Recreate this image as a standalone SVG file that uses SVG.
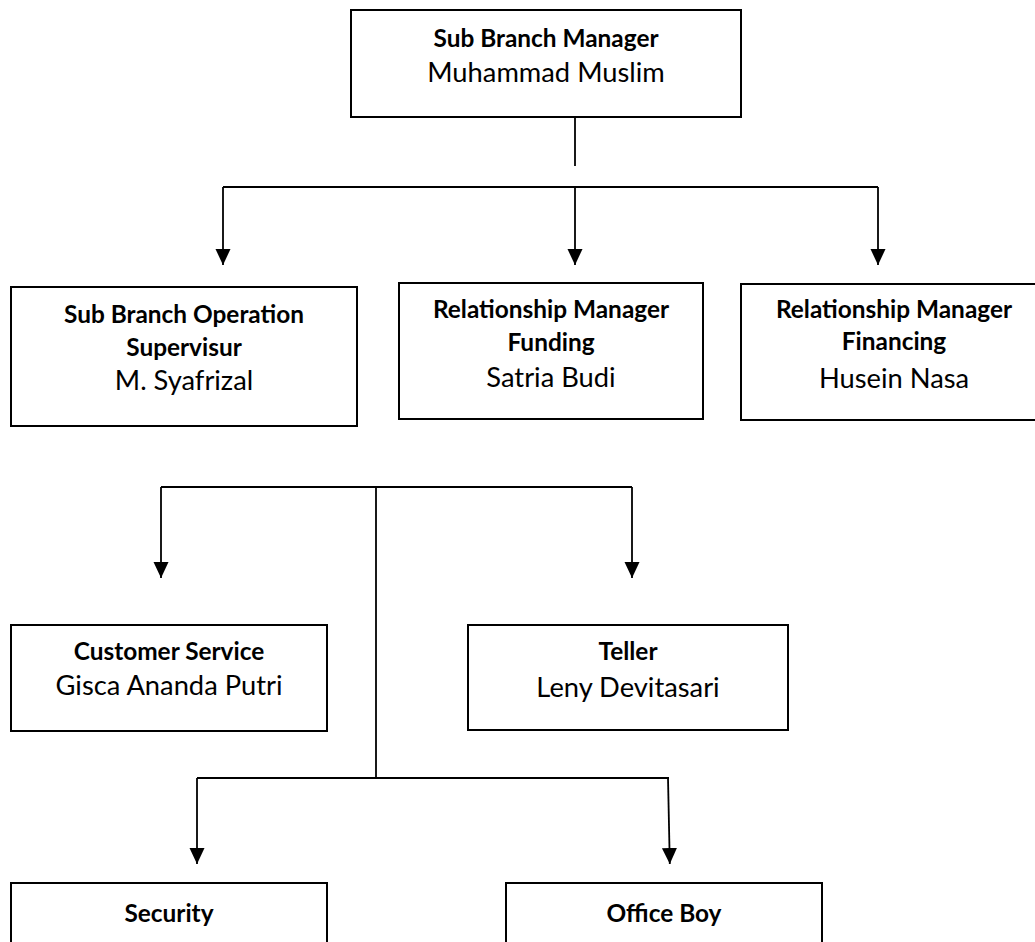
<svg xmlns="http://www.w3.org/2000/svg" width="1035" height="942" viewBox="0 0 1035 942">
<style>
.box{fill:#fff;stroke:#000;stroke-width:2}
.t{font-family:Lato,"Liberation Sans",sans-serif;font-weight:bold;font-size:24.4px;text-anchor:middle;fill:#000}
.n{font-family:Lato,"Liberation Sans",sans-serif;font-size:27.3px;text-anchor:middle;fill:#000}
.c{fill:none;stroke:#000;stroke-width:1.8}
</style>
<defs>
<marker id="ah" markerUnits="userSpaceOnUse" markerWidth="17" markerHeight="16" viewBox="0 0 17 16" refX="16" refY="8" orient="auto">
<path d="M0 0.5 L16 8 L0 15.5 Z" fill="#000"/>
</marker>
</defs>
<rect width="1035" height="942" fill="#fff"/>
<g id="connectors">
<path class="c" d="M575 117 V166"/>
<path class="c" d="M223 187 H878"/>
<path class="c" d="M223 187 V265" marker-end="url(#ah)"/>
<path class="c" d="M575 187 V265" marker-end="url(#ah)"/>
<path class="c" d="M878 187 V265" marker-end="url(#ah)"/>
<path class="c" d="M376 487 V778"/>
<path class="c" d="M161 487 H632"/>
<path class="c" d="M161 487 V578" marker-end="url(#ah)"/>
<path class="c" d="M632 487 V578" marker-end="url(#ah)"/>
<path class="c" d="M197 778 H669"/>
<path class="c" d="M197 778 V864" marker-end="url(#ah)"/>
<path class="c" d="M668 778 L669.8 864" marker-end="url(#ah)"/>
</g>
<g id="sub-branch-manager">
<rect class="box" x="351" y="10" width="390" height="107"/>
<text class="t" x="546" y="46.5">Sub Branch Manager</text>
<text class="n" x="546" y="82">Muhammad Muslim</text>
</g>
<g id="operation-supervisor">
<rect class="box" x="11" y="287" width="346" height="139"/>
<text class="t" x="184" y="323">Sub Branch Operation</text>
<text class="t" x="184" y="356">Supervisur</text>
<text class="n" x="184" y="390">M. Syafrizal</text>
</g>
<g id="rm-funding">
<rect class="box" x="399" y="283" width="304" height="136"/>
<text class="t" x="551" y="318">Relationship Manager</text>
<text class="t" x="551" y="351">Funding</text>
<text class="n" x="551" y="387">Satria Budi</text>
</g>
<g id="rm-financing">
<rect class="box" x="741" y="284" width="306" height="136"/>
<text class="t" x="894" y="318">Relationship Manager</text>
<text class="t" x="894" y="350">Financing</text>
<text class="n" x="894" y="388">Husein Nasa</text>
</g>
<g id="customer-service">
<rect class="box" x="11" y="625" width="316" height="106"/>
<text class="t" x="169" y="660">Customer Service</text>
<text class="n" x="169" y="695">Gisca Ananda Putri</text>
</g>
<g id="teller">
<rect class="box" x="468" y="625" width="320" height="105"/>
<text class="t" x="628" y="660">Teller</text>
<text class="n" x="628" y="697">Leny Devitasari</text>
</g>
<g id="security">
<rect class="box" x="11" y="883" width="316" height="90"/>
<text class="t" x="169" y="922">Security</text>
</g>
<g id="office-boy">
<rect class="box" x="506" y="883" width="316" height="90"/>
<text class="t" x="664" y="922">Office Boy</text>
</g>
</svg>
